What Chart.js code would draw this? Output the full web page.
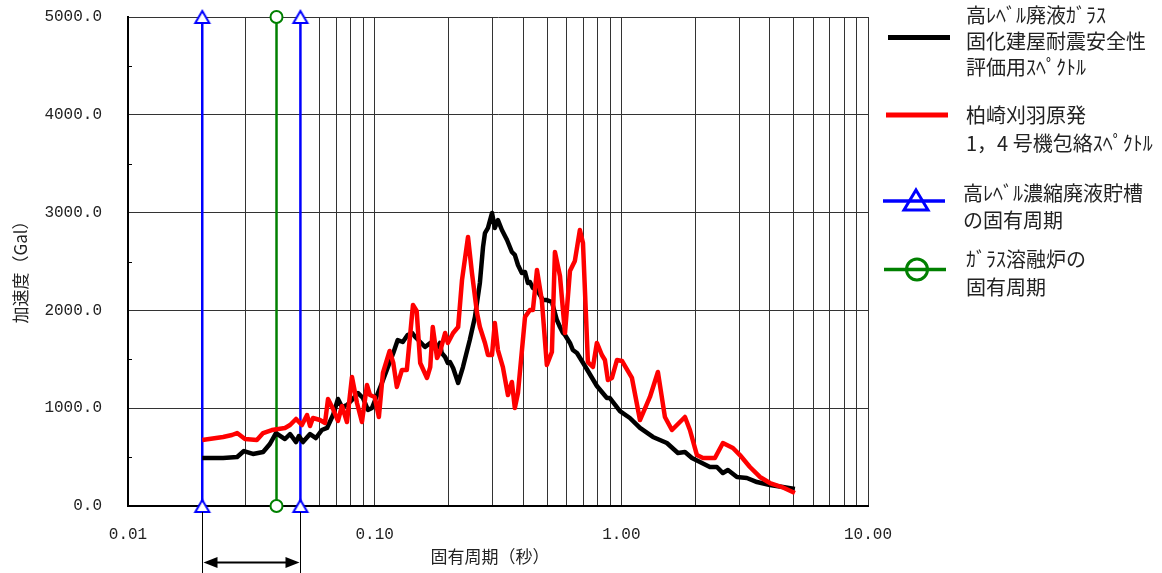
<!DOCTYPE html>
<html><head><meta charset="utf-8">
<script src="https://cdn.jsdelivr.net/npm/chart.js@4/dist/chart.umd.min.js"></script>
<style>html,body{margin:0;padding:0;background:#fff;}canvas{display:block;}</style>
</head><body>
<canvas id="c" width="1162" height="573"></canvas>
<script>
// ---- data (period in s, acceleration in Gal) ----
const blackPeriod = [0.020,0.0243,0.0277,0.0295,0.0321,0.0353,0.0376,0.0398,0.0433,0.0454,0.0480,0.0493,0.0512,0.0547,0.0578,0.0611,0.0641,0.0678,0.0710,0.0737,0.0772,0.0809,0.0856,0.0897,0.0939,0.0975,0.107,0.112,0.119,0.124,0.130,0.136,0.142,0.146,0.153,0.160,0.168,0.172,0.179,0.184,0.187,0.193,0.198,0.202,0.208,0.218,0.228,0.243,0.255,0.267,0.275,0.280,0.288,0.299,0.307,0.316,0.328,0.344,0.360,0.370,0.381,0.395,0.407,0.418,0.426,0.438,0.455,0.468,0.481,0.499,0.523,0.548,0.564,0.580,0.591,0.619,0.636,0.661,0.712,0.796,0.874,0.899,0.987,1.083,1.190,1.343,1.530,1.696,1.811,1.933,2.083,2.286,2.440,2.581,2.705,2.942,3.229,3.546,4.003,4.52,5.054];
const blackAccel = [491,491,501,562,532,552,634,746,685,736,654,716,654,736,695,777,798,930,1094,1012,1033,1084,1155,1104,982,1002,1258,1391,1564,1697,1677,1749,1769,1728,1677,1626,1667,1616,1616,1667,1564,1524,1462,1472,1411,1258,1421,1697,1932,2280,2648,2791,2843,2996,2843,2924,2822,2720,2597,2567,2464,2382,2393,2280,2290,2229,2209,2157,2106,2106,2086,1902,1830,1769,1749,1667,1595,1564,1432,1227,1104,1104,971,900,798,706,644,542,552,491,450,399,399,337,368,297,286,245,215,194,174];
const redPeriod = [0.020,0.0243,0.0264,0.0277,0.0298,0.0333,0.0353,0.0383,0.0433,0.0454,0.0480,0.0507,0.0532,0.0547,0.0562,0.0600,0.0629,0.0647,0.0678,0.0710,0.0737,0.0772,0.0809,0.0848,0.0888,0.0931,0.0957,0.100,0.104,0.108,0.115,0.119,0.123,0.129,0.135,0.143,0.148,0.153,0.163,0.168,0.172,0.179,0.184,0.193,0.198,0.208,0.218,0.226,0.239,0.248,0.260,0.267,0.280,0.288,0.299,0.307,0.316,0.331,0.347,0.360,0.370,0.381,0.407,0.426,0.438,0.455,0.476,0.499,0.523,0.538,0.564,0.591,0.619,0.648,0.679,0.699,0.732,0.767,0.796,0.834,0.858,0.882,0.916,0.960,1.006,1.104,1.190,1.306,1.407,1.502,1.604,1.811,1.897,2.025,2.142,2.395,2.581,2.834,3.025,3.321,3.647,4.003,4.477,5.054];
const redAccel = [675,706,726,746,685,675,746,777,798,828,890,828,930,818,900,879,849,1094,992,869,1023,859,1319,1053,859,1237,1135,1115,910,1360,1585,1462,1217,1391,1391,2055,1994,1462,1309,1421,1830,1513,1575,1769,1667,1769,1830,2311,2751,2382,1973,1830,1667,1544,1544,1871,1595,1421,1135,1268,1002,1155,1932,2004,2004,2413,2106,1442,1575,2597,2352,1769,2403,2505,2822,2689,1472,1421,1667,1544,1493,1288,1309,1493,1483,1309,879,1115,1370,910,777,910,777,521,491,491,644,593,521,399,297,235,194,133];
const tankPeriods = [0.02, 0.05];      // 高レベル濃縮廃液貯槽の固有周期
const melterPeriods = [0.04];          // ガラス溶融炉の固有周期
const yMin = 0, yMax = 5000;
const xTickValues = [0.01, 0.1, 1, 10];
const xTickLabels = ['0.01', '0.10', '1.00', '10.00'];
const yTickLabels = ['0.0', '1000.0', '2000.0', '3000.0', '4000.0', '5000.0'];
const yMinorTicks = [500, 1500, 2500, 3500, 4500];
const legendTexts = [
  ['高ﾚﾍﾞﾙ廃液ｶﾞﾗｽ', '固化建屋耐震安全性', '評価用ｽﾍﾟｸﾄﾙ'],
  ['柏崎刈羽原発', '1，4 号機包絡ｽﾍﾟｸﾄﾙ'],
  ['高ﾚﾍﾞﾙ濃縮廃液貯槽', 'の固有周期'],
  ['ｶﾞﾗｽ溶融炉の', '固有周期']
];
const xTitle = '固有周期（秒）';
const yTitle = '加速度（Gal）';

const BLUE = '#0000ff', GREEN = '#008000', RED = '#ff0000', BLACK = '#000000';
const CJK = "'Noto Sans CJK JP', sans-serif";

function triImage(size, w, h, lw) {
  const c = document.createElement('canvas'); c.width = size; c.height = size;
  const g = c.getContext('2d'); const cx = size / 2, cy = size / 2;
  g.beginPath(); g.moveTo(cx, cy - h / 2); g.lineTo(cx + w / 2, cy + h / 2); g.lineTo(cx - w / 2, cy + h / 2); g.closePath();
  g.fillStyle = '#fff'; g.fill(); g.strokeStyle = BLUE; g.lineWidth = lw; g.lineJoin = 'miter'; g.stroke();
  return c;
}
const triSmall = triImage(22, 14, 12, 2);

// grid values for the log axis (1..9 per decade)
const xGrid = [];
[0.01, 0.1, 1].forEach(d => { for (let m = 1; m <= 9; m++) xGrid.push(parseFloat((m * d).toPrecision(3))); });
xGrid.push(10);

const datasets = [
  { label: 'red', data: redPeriod.map((p, i) => ({ x: p, y: redAccel[i] })), borderColor: RED, borderWidth: 4.5, pointRadius: 0, showLine: true, tension: 0 },
  { label: 'black', data: blackPeriod.map((p, i) => ({ x: p, y: blackAccel[i] })), borderColor: BLACK, borderWidth: 4.5, pointRadius: 0, showLine: true, tension: 0 }
];
tankPeriods.forEach(p => datasets.push({ label: 'tank', data: [{ x: p, y: yMin }, { x: p, y: yMax }], borderColor: BLUE, borderWidth: 2.5, showLine: true, pointStyle: triSmall, pointRadius: 7, clip: false }));
melterPeriods.forEach(p => datasets.push({ label: 'melter', data: [{ x: p, y: yMin }, { x: p, y: yMax }], borderColor: GREEN, backgroundColor: '#fff', borderWidth: 2.5, showLine: true, pointStyle: 'circle', pointRadius: 6, pointBorderWidth: 2, clip: false }));

const deco = {
  id: 'deco',
  afterDraw(chart) {
    const { ctx, chartArea: a, scales: { x, y } } = chart;
    ctx.save();
    // minor y ticks
    ctx.strokeStyle = '#000'; ctx.lineWidth = 1;
    yMinorTicks.forEach(v => { const py = Math.round(y.getPixelForValue(v)) + 0.5; ctx.beginPath(); ctx.moveTo(a.left, py); ctx.lineTo(a.left + 4, py); ctx.stroke(); });
    // range arrow under the axis
    const x1 = Math.round(x.getPixelForValue(tankPeriods[0])) + 0.5, x2 = Math.round(x.getPixelForValue(tankPeriods[1])) + 0.5;
    ctx.beginPath(); ctx.moveTo(x1, a.bottom + 6); ctx.lineTo(x1, chart.height); ctx.moveTo(x2, a.bottom + 6); ctx.lineTo(x2, chart.height); ctx.stroke();
    const ay = 562.5;
    ctx.lineWidth = 2; ctx.beginPath(); ctx.moveTo(x1 + 8, ay); ctx.lineTo(x2 - 8, ay); ctx.stroke();
    ctx.fillStyle = '#000';
    ctx.beginPath(); ctx.moveTo(x1 + 1, ay); ctx.lineTo(x1 + 15, ay - 5.5); ctx.lineTo(x1 + 15, ay + 5.5); ctx.closePath(); ctx.fill();
    ctx.beginPath(); ctx.moveTo(x2 - 1, ay); ctx.lineTo(x2 - 15, ay - 5.5); ctx.lineTo(x2 - 15, ay + 5.5); ctx.closePath(); ctx.fill();
    // axis titles
    ctx.fillStyle = '#222'; ctx.font = '17px ' + CJK; ctx.textAlign = 'center'; ctx.textBaseline = 'middle';
    ctx.fillText(xTitle, 490, 557);
    ctx.save(); ctx.translate(21, 268); ctx.rotate(-Math.PI / 2); ctx.fillText(yTitle, 0, 0); ctx.restore();
    // legend
    ctx.textAlign = 'left'; ctx.font = '20px ' + CJK; ctx.fillStyle = '#222';
    const rows = [
      { color: BLACK, lw: 5, ly: 37.5, x0: 888, x1: 950, tx: 966, ty: [15, 41.5, 67] },
      { color: RED, lw: 5, ly: 115, x0: 886, x1: 948, tx: 966, ty: [115, 143] },
      { color: BLUE, lw: 3.5, ly: 201, x0: 883, x1: 945, tx: 963, ty: [193, 220], mark: 'tri' },
      { color: GREEN, lw: 3.5, ly: 269.5, x0: 884, x1: 946, tx: 966, ty: [259, 287], mark: 'circ' }
    ];
    rows.forEach((r, i) => {
      ctx.strokeStyle = r.color; ctx.lineWidth = r.lw;
      ctx.beginPath(); ctx.moveTo(r.x0, r.ly); ctx.lineTo(r.x1, r.ly); ctx.stroke();
      if (r.mark === 'tri') {
        ctx.lineWidth = 3; ctx.beginPath(); ctx.moveTo(916, 190); ctx.lineTo(928, 210); ctx.lineTo(904, 210); ctx.closePath(); ctx.stroke();
      } else if (r.mark === 'circ') {
        ctx.lineWidth = 3; ctx.beginPath(); ctx.arc(917, 269.5, 10.5, 0, Math.PI * 2); ctx.stroke();
      }
      ctx.fillStyle = '#222';
      legendTexts[i].forEach((t, k) => ctx.fillText(t, r.tx, r.ty[k]));
    });
    ctx.restore();
  }
};

new Chart(document.getElementById('c'), {
  type: 'scatter',
  data: { datasets },
  plugins: [deco],
  options: {
    responsive: false, animation: false, devicePixelRatio: 1,
    layout: { padding: { left: 0, top: 17, right: 294, bottom: 0 } },
    plugins: { legend: { display: false }, tooltip: { enabled: false } },
    elements: { line: { borderJoinStyle: 'round', borderCapStyle: 'butt' } },
    scales: {
      x: {
        type: 'logarithmic', min: 0.01, max: 10,
        afterBuildTicks(s) { s.ticks = xGrid.map(v => ({ value: v })); },
        afterFit(s) { s.height = 67; s.paddingLeft = 0; s.paddingRight = 0; },
        ticks: {
          autoSkip: false, maxRotation: 0, padding: 19, color: '#222',
          font: { family: "'Liberation Mono', monospace", size: 16 },
          callback(v) { const k = xTickValues.findIndex(t => Math.abs(t - v) < 1e-9); return k >= 0 ? xTickLabels[k] : ''; }
        },
        grid: { color: '#333', lineWidth: 1, drawTicks: false },
        border: { color: '#000', width: 2 }
      },
      y: {
        min: yMin, max: yMax,
        afterFit(s) { s.width = 128; s.paddingTop = 0; s.paddingBottom = 0; },
        ticks: {
          stepSize: 1000, padding: 26, color: '#222',
          font: { family: "'Liberation Mono', monospace", size: 16 },
          callback(v, i) { return yTickLabels[i]; }
        },
        grid: { color: '#333', lineWidth: 1, drawTicks: false },
        border: { color: '#000', width: 2 }
      }
    }
  }
});
</script>
</body></html>
